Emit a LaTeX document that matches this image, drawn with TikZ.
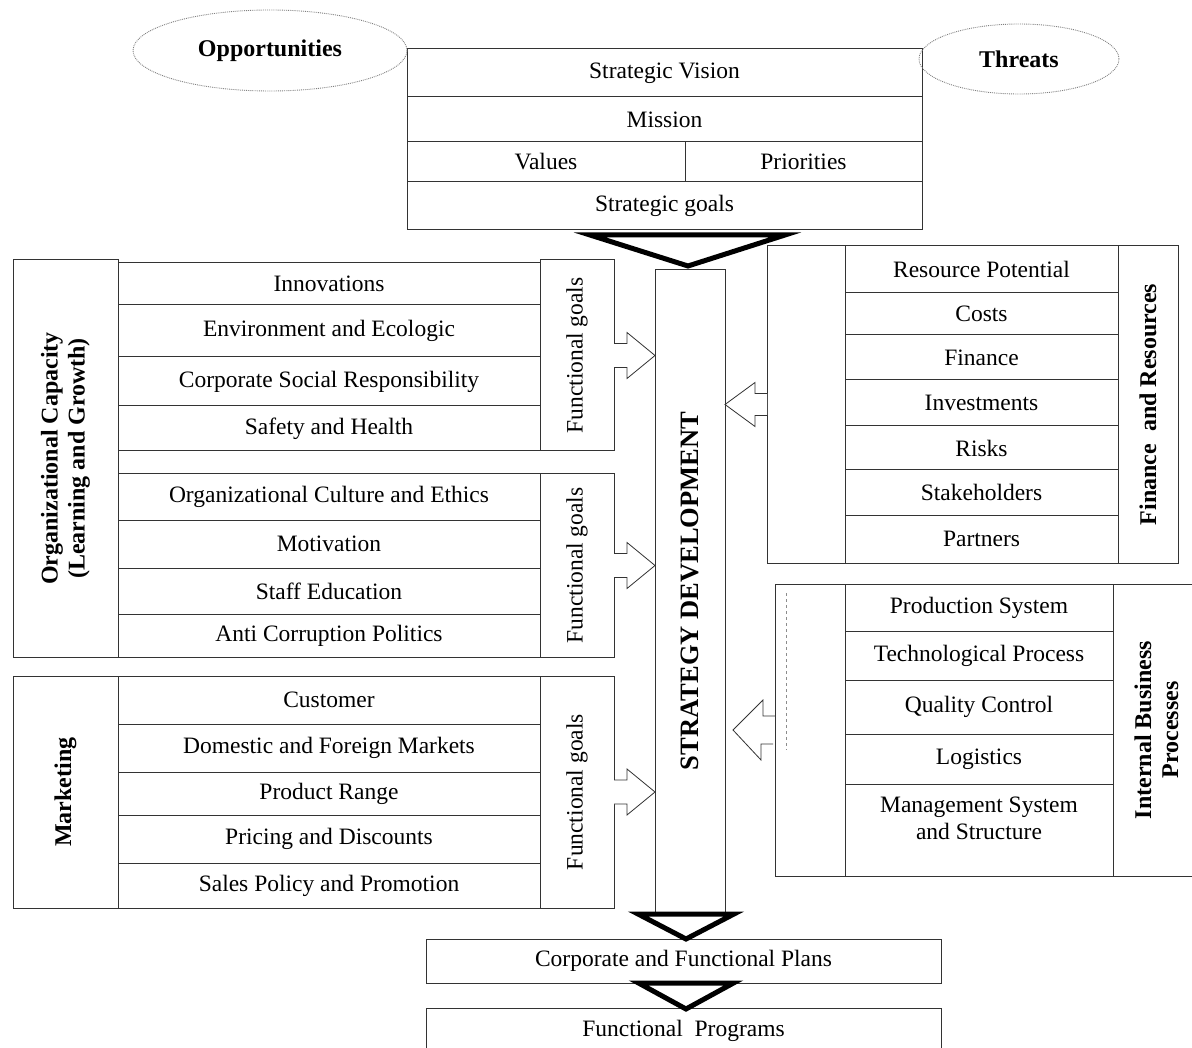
\documentclass[tikz,border=0pt]{standalone}
\usepackage{fontspec}
\setmainfont{Liberation Serif}
\usetikzlibrary{positioning}
\usetikzlibrary{calc}
\usetikzlibrary{shapes.geometric}
\newcommand{\itemsize}{\fontsize{23.5}{27}\selectfont}
\newcommand{\headsize}{\fontsize{24}{27}\selectfont\bfseries}
\tikzstyle{cell} = [draw=black!80, line width=1pt, rectangle, inner sep=0pt, outer sep=0pt, align=center, font=\itemsize]
\tikzstyle{oval} = [draw=black!50, densely dotted, line width=0.9pt, ellipse, inner sep=0pt, font=\headsize]
\tikzstyle{vlabel} = [rotate=90, align=center, font=\headsize]
\tikzstyle{vgoal} = [rotate=90, font=\itemsize]
\tikzstyle{harrow} = [draw=black!80, line width=0.8pt, fill=white]
\tikzstyle{tri} = [draw=black, line width=5pt, line join=miter]

\begin{document}
\begin{tikzpicture}[x=1pt,y=-1pt]
    \useasboundingbox (0,0) rectangle (1192,1048);

    % vision block
    \node [cell, minimum width=515, minimum height=48] (vision) at (664.5,73) {Strategic Vision};
    \node [cell, minimum width=515, minimum height=45, below=0pt of vision] (mission) {Mission};
    \node [cell, minimum width=278, minimum height=40] (values) at (546,162) {Values};
    \node [cell, minimum width=237, minimum height=40] (prior) at (803.5,162) {Priorities};
    \node [cell, minimum width=515, minimum height=48] (sgoals) at (664.5,206) {Strategic goals};
    \node [oval, minimum width=274, minimum height=81] (opp) at (270,50.5) {Opportunities};
    \node [oval, minimum width=200, minimum height=70] (threats) at (1019,59) {Threats};

    % strategy column
    \node [cell, minimum width=70, minimum height=642] (sd) at (690,591) {};
    \node [vlabel, font=\fontsize{26.5}{30}\selectfont\bfseries] at (sd) {STRATEGY DEVELOPMENT};

    % organizational capacity
    \node [cell, minimum width=105, minimum height=397] (orgcap) at (65.5,458.5) {};
    \node [vlabel] at (orgcap) {Organizational Capacity\\(Learning and Growth)};
    \node [cell, minimum width=422, minimum height=42] (innov) at (329,284) {Innovations};
    \node [cell, minimum width=422, minimum height=52, below=0pt of innov] (env) {Environment and Ecologic};
    \node [cell, minimum width=422, minimum height=49, below=0pt of env] (csr) {Corporate Social Responsibility};
    \node [cell, minimum width=422, minimum height=45, below=0pt of csr] (safety) {Safety and Health};
    \node [cell, minimum width=74, minimum height=191] (fg1) at (577,355.5) {};
    \node [vgoal] at (fg1) {Functional goals};

    \node [cell, minimum width=422, minimum height=46] (culture) at (329,497) {Organizational Culture and Ethics};
    \node [cell, minimum width=422, minimum height=48, below=0pt of culture] (motiv) {Motivation};
    \node [cell, minimum width=422, minimum height=46, below=0pt of motiv] (educ) {Staff Education};
    \node [cell, minimum width=422, minimum height=43, below=0pt of educ] (anticor) {Anti Corruption Politics};
    \node [cell, minimum width=74, minimum height=183] (fg2) at (577,565.5) {};
    \node [vgoal] at (fg2) {Functional goals};

    % marketing
    \node [cell, minimum width=105, minimum height=232] (mkt) at (65.5,792) {};
    \node [vlabel] at (mkt) {Marketing};
    \node [cell, minimum width=422, minimum height=48] (cust) at (329,700) {Customer};
    \node [cell, minimum width=422, minimum height=48, below=0pt of cust] (markets) {Domestic and Foreign Markets};
    \node [cell, minimum width=422, minimum height=43, below=0pt of markets] (range) {Product Range};
    \node [cell, minimum width=422, minimum height=48, below=0pt of range] (pricing) {Pricing and Discounts};
    \node [cell, minimum width=422, minimum height=45, below=0pt of pricing] (sales) {Sales Policy and Promotion};
    \node [cell, minimum width=74, minimum height=232] (fg3) at (577,792) {};
    \node [vgoal] at (fg3) {Functional goals};

    % finance and resources
    \node [cell, minimum width=78, minimum height=317] (finL) at (806,404.5) {};
    \node [cell, minimum width=273, minimum height=47] (respot) at (981.5,269.5) {Resource Potential};
    \node [cell, minimum width=273, minimum height=42, below=0pt of respot] (costs) {Costs};
    \node [cell, minimum width=273, minimum height=45, below=0pt of costs] (finance) {Finance};
    \node [cell, minimum width=273, minimum height=46, below=0pt of finance] (invest) {Investments};
    \node [cell, minimum width=273, minimum height=44, below=0pt of invest] (risks) {Risks};
    \node [cell, minimum width=273, minimum height=45, below=0pt of risks] (stake) {Stakeholders};
    \node [cell, minimum width=273, minimum height=48, below=0pt of stake] (partners) {Partners};
    \node [cell, minimum width=60, minimum height=317] (finR) at (1148,404.5) {};
    \node [vlabel] at (finR) {Finance~~and Resources};

    % internal business processes
    \node [cell, minimum width=70, minimum height=292] (intL) at (810,730) {};
    \node [cell, minimum width=268, minimum height=47] (prod) at (979,607.5) {Production System};
    \node [cell, minimum width=268, minimum height=49, below=0pt of prod] (tech) {Technological Process};
    \node [cell, minimum width=268, minimum height=54, below=0pt of tech] (qual) {Quality Control};
    \node [cell, minimum width=268, minimum height=50, below=0pt of qual] (logis) {Logistics};
    \node [cell, minimum width=268, minimum height=92, below=0pt of logis] (mgmt) {};
    \node [font=\itemsize, align=center, below=9pt of mgmt.north] {Management System\\and Structure};
    \node [cell, minimum width=87, minimum height=292] (intR) at (1156.5,730) {};
    \node [vlabel] at (intR) {Internal Business\\Processes};
    \draw [dashed, draw=black!45, line width=0.8pt] ($(intL.north west)+(11,9)$) -- ($(intL.north west)+(11,166)$);

    % plans
    \node [cell, minimum width=515, minimum height=44] (plans) at (683.5,961) {Corporate and Functional Plans};
    \node [cell, minimum width=515, minimum height=46] (programs) at (683.5,1031) {Functional~~Programs};

    % goal arrows
    \draw [harrow] ($(fg1.east)+(0,-12)$) -- ++(13,0) -- ++(0,-11) -- (fg1.east -| sd.west) -- ++(-28,23) -- ++(0,-11) -- ++(-13,0);
    \draw [harrow] ($(fg2.east)+(0,-12)$) -- ++(13,0) -- ++(0,-11) -- (fg2.east -| sd.west) -- ++(-28,23) -- ++(0,-11) -- ++(-13,0);
    \draw [harrow] ($(fg3.east)+(0,-12)$) -- ++(13,0) -- ++(0,-11) -- (fg3.east -| sd.west) -- ++(-28,23) -- ++(0,-11) -- ++(-13,0);
    \draw [harrow] ($(finL.west)+(0,-11)$) -- ++(-12,0) -- ++(0,-11) -- (finL.west -| sd.east) -- ++(30,22) -- ++(0,-11) -- ++(12,0);
    \draw [harrow] ($(intL.west)+(0,-14)$) -- ++(-12,0) -- ++(0,-16) -- ($(intL.west -| sd.east)+(8,0)$) -- ++(28,30) -- ++(0,-16) -- ++(12,0);

    % flow triangles
    \draw [tri] ($(sd.north)+(-100,-35)$) -- ($(sd.north)+(95,-35)$) -- ($(sd.north)+(-2,-4)$) -- cycle;
    \draw [tri] ($(sd.south)+(-52,2)$) -- ($(sd.south)+(44,2)$) -- ($(plans.north)+(2.5,0)$) -- cycle;
    \draw [tri] ($(plans.south)+(-45,0)$) -- ($(plans.south)+(50,0)$) -- ($(programs.north)+(2.5,1)$) -- cycle;
\end{tikzpicture}
\end{document}
